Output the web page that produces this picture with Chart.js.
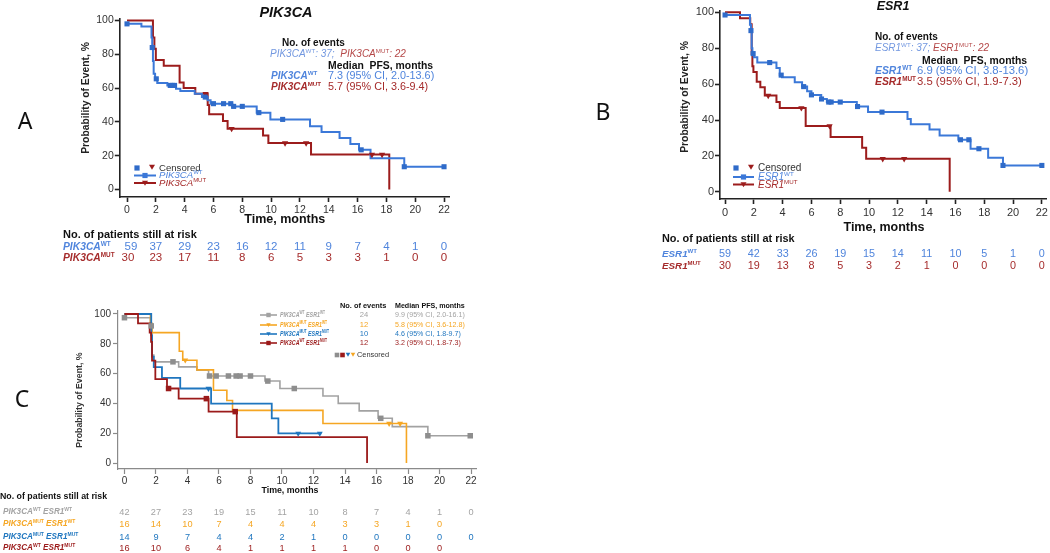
<!DOCTYPE html>
<html><head><meta charset="utf-8">
<script src="https://cdn.jsdelivr.net/npm/chart.js@4.4.1/dist/chart.umd.min.js"></script>
<style>
html,body{margin:0;padding:0;background:#fff;width:1050px;height:553px;overflow:hidden;position:relative}
canvas{position:absolute}
</style></head><body>
<canvas id="cA" width="560" height="285" style="left:0px;top:0px"></canvas>
<canvas id="cB" width="490" height="285" style="left:560px;top:0px"></canvas>
<canvas id="cC" width="500" height="263" style="left:0px;top:290px"></canvas>
<script>
// ---------- tick labels ----------
const xTicks = [0,2,4,6,8,10,12,14,16,18,20,22];
const yTicks = [0,20,40,60,80,100];

// ---------- Panel A: PIK3CA ----------
const aWtT = [0,1.0,1.7,1.75,1.8,1.85,1.95,2.1,2.8,3.4,3.7,4.7,5.2,5.6,5.8,7.3,9.0,9.95,12.7,13.5,14.75,15.5,16.1,16.9,19.24,22];
const aWtS = [98,96.5,90,84,76,68.5,65.5,63,61.6,59.6,58.3,56.7,54.7,52.8,50.8,49.2,45.5,41.5,37.5,34,30.5,27,23.5,18.5,13.5,13.5];
const aWtCens = [0,1.75,2.03,3.0,3.15,3.3,5.43,6.0,6.7,7.2,7.4,8.0,9.15,10.8,16.25,19.24,22];
const aMutT = [0,1.8,1.9,2.0,2.55,3.65,3.93,4.74,5.6,5.7,6.66,6.98,9.44,9.81,12.77,18.2];
const aMutS = [100,90,83.3,76.7,73.3,63.3,60,56.7,50,44.5,40.5,36,32,27.5,20.7,0];
const aMutCens = [5.45,7.26,10.97,12.43,17.0,17.7];
const aRiskWt  = [59,37,29,23,16,12,11,9,7,4,1,0];
const aRiskMut = [30,23,17,11,8,6,5,3,3,1,0,0];

// ---------- Panel B: ESR1 ----------
const bWtT = [0,1.73,1.8,1.85,1.9,2.0,2.24,3.57,3.8,3.95,4.84,5.35,5.7,6.0,6.68,7.07,9.15,9.93,12.67,12.9,14.2,14.9,16.2,17.05,18.27,19.3,22];
const bWtS = [98.5,93,89.8,80,77,75,72,69,65,63.8,61,58.6,56,54,51.7,50,47.5,44.4,40.6,37.7,34.7,31.4,29,24,19,14.7,14.7];
const bWtCens = [0,1.8,1.95,3.1,3.9,5.46,6.0,6.7,7.2,7.37,8.0,9.2,10.9,16.35,16.93,17.63,19.3,22];
const bMutT = [0,1.04,1.75,1.85,1.9,1.97,2.2,2.45,2.76,3.57,3.8,5.6,7.33,9.52,9.8,15.6];
const bMutS = [100,96.7,93.3,76.7,70,66.7,61.3,58.2,53.6,50,46.7,36.7,30.6,24.5,18.4,0];
const bMutCens = [3.0,5.3,7.26,10.95,12.44];
const bRiskWt  = [59,42,33,26,19,15,14,11,10,5,1,0];
const bRiskMut = [30,19,13,8,5,3,2,1,0,0,0,0];

// ---------- Panel C: combined ----------
const cGrayT = [0,1.65,1.75,1.86,3.44,4.6,5.34,8.92,9.87,12.6,13.57,14.9,16.1,17.0,19.26,22];
const cGrayS = [97.5,92,72.4,67.9,64.5,62.2,58.4,55,50,45,40,35,30,24.4,18.3,18.3];
const cGrayCens = [0,1.7,3.08,5.4,5.82,6.6,7.09,7.34,8.0,9.1,10.78,16.27,19.26,21.95];
const cYelT = [0,1.65,1.75,3.48,3.7,4.6,5.65,6.5,6.86,12.6,17.9];
const cYelS = [100,93.75,87.5,75,69,62.5,48.8,42,35.3,26.5,0];
const cYelCens = [3.86,16.8,17.5];
const cBluT = [0,1.7,1.75,1.86,2.38,3.54,5.5,9.35,9.77,12.5];
const cBluS = [100,85.7,71.4,64.3,57.1,50,39.8,30,19.9,19.9];
const cBluCens = [5.33,11.03,12.4];
const cRedT = [0,0.86,1.6,1.69,1.75,1.96,2.7,3.44,5.34,7.13,15.4];
const cRedS = [100,93.75,87.5,81.25,68.75,56.25,50,43.2,34.5,17.4,0];
const cRedCens = [2.8,5.2,7.03];
const cRiskGray = [42,27,23,19,15,11,10,8,7,4,1,0];
const cRiskYel  = [16,14,10,7,4,4,4,3,3,1,0];
const cRiskBlu  = [14,9,7,4,4,2,1,0,0,0,0,0];
const cRiskRed  = [16,10,6,4,1,1,1,1,0,0,0];
const cEvents = ['24','12','10','12'];
const cMedians = ['9.9 (95% CI, 2.0-16.1)','5.8 (95% CI, 3.6-12.8)','4.6 (95% CI, 1.8-9.7)','3.2 (95% CI, 1.8-7.3)'];

// ---------- styles ----------
const F  = '"Liberation Sans", Arial, sans-serif';
const BL = '#3b78d8', BLT = '#4f84dc', BLM = '#2f6bc9', BLL = '#7398e0';
const RD = '#9c1c1c', RDT = '#a52b2b', RDL = '#b54848';
const CG = '#a2a2a2', CGM = '#8e8e8e', CGT = '#a3a3a3';
const CY = '#f5a623', CB = '#1f76bf', CR = '#9b1a1a';

function survAt(T,S,t){ let v=S[0]; for(let i=0;i<T.length;i++){ if(T[i]<=t+1e-9) v=S[i]; } return v; }
function km(T,S,color,w){ return {data:T.map((t,i)=>({x:t,y:S[i]})), showLine:true, stepped:'before', borderColor:color, borderWidth:w, pointRadius:0, fill:false, clip:false, borderCapStyle:'butt', borderJoinStyle:'miter'}; }
function cens(C,T,S,style,r,color){ return {data:C.map(t=>({x:t,y:survAt(T,S,t)})), showLine:false, pointStyle:style, rotation: style==='triangle'?180:0, pointRadius:r, pointBackgroundColor:color, pointBorderColor:color, pointBorderWidth:0, clip:false}; }

function rich(ctx,segs,x,y,align,hs){
  hs = hs || 1;
  let w=0; segs.forEach(s=>{ctx.font=s[1]; w+=ctx.measureText(s[0]).width;});
  const x0 = align==='center'? x-w*hs/2 : (align==='right'? x-w*hs : x);
  ctx.save(); ctx.translate(x0,y); ctx.scale(hs,1);
  ctx.textAlign='left'; ctx.textBaseline='middle';
  let cx=0;
  segs.forEach(s=>{ctx.font=s[1]; ctx.fillStyle=s[2]; ctx.fillText(s[0],cx,(s[3]||0)); cx+=ctx.measureText(s[0]).width;});
  ctx.restore();
}
function txt(ctx,s,x,y,f,c,align,hs){ rich(ctx,[[s,f,c,0]],x,y,align||'left',hs); }
function gene(name,sup,size,color,bold){
  const b = bold?'bold ':'';
  return [[name, b+'italic '+size+'px '+F, color, 0],
          [sup, b+(size*0.62).toFixed(1)+'px '+F, color, -size*0.3]];
}
function marker(ctx,style,x,y,r,color){
  ctx.fillStyle=color; ctx.beginPath();
  if(style==='rect'){ ctx.rect(x-r,y-r,2*r,2*r); }
  else { ctx.moveTo(x-r,y-r*0.75); ctx.lineTo(x+r,y-r*0.75); ctx.lineTo(x,y+r*0.95); ctx.closePath(); }
  ctx.fill();
}
function legLine(ctx,x1,x2,y,color,w,style,r){
  ctx.strokeStyle=color; ctx.lineWidth=w; ctx.beginPath(); ctx.moveTo(x1,y); ctx.lineTo(x2,y); ctx.stroke();
  marker(ctx,style,(x1+x2)/2,y,r,color);
}

function makeChart(id, P){
  const padding = {
    left: P.area.left - P.ox - P.yW,
    top: P.area.top - P.oy,
    right: P.w - (P.area.right - P.ox),
    bottom: P.h - (P.area.bottom - P.oy) - P.xH
  };
  const axis = (min,max,ticks,fit,pad) => ({
    type:'linear', min:min, max:max,
    afterBuildTicks: s => { s.ticks = ticks.map(v=>({value:v})); },
    afterFit: fit,
    grid:{display:true, drawOnChartArea:false, drawTicks:true, tickLength:P.tickLen, tickColor:P.axisColor, tickWidth:P.axisW},
    border:{display:true, color:P.axisColor, width:P.axisW},
    ticks:{font:P.tickFont, color:P.tickColor, padding:pad, autoSkip:false, maxRotation:0}
  });
  return new Chart(document.getElementById(id), {
    type:'scatter',
    data:{datasets:P.datasets},
    options:{
      responsive:false, animation:false, devicePixelRatio:1,
      layout:{padding:padding, autoPadding:false},
      plugins:{legend:{display:false}, tooltip:{enabled:false}},
      events:[],
      scales:{
        x: axis(P.xr[0],P.xr[1],xTicks, s=>{s.height=P.xH;}, P.xPad),
        y: axis(P.yr[0],P.yr[1],yTicks, s=>{s.width=P.yW;}, P.yPad)
      }
    },
    plugins:[{id:'txt'+id, afterDraw(chart){
      const ctx=chart.ctx; ctx.save(); ctx.translate(-P.ox,-P.oy);
      const xs = v => chart.scales.x.getPixelForValue(v) + P.ox;
      P.draw(ctx, xs, chart); ctx.restore();
    }}]
  });
}

// ---------- Panel A ----------
makeChart('cA', {
  ox:0, oy:0, w:560, h:285, yW:40, xH:20,
  area:{left:119.8, right:449.8, top:18.8, bottom:197},
  xr:[-0.5,22.4], yr:[-4.4,101],
  axisColor:'#222', axisW:1.6, tickLen:5, tickColor:'#333', xPad:2, yPad:1,
  tickFont:{family:F, size:10.5},
  datasets:[
    cens(aWtCens,aWtT,aWtS,'rect',3.6,BLM),
    cens(aMutCens,aMutT,aMutS,'triangle',3.6,RD),
    km(aWtT,aWtS,BL,2),
    km(aMutT,aMutS,RD,2)
  ],
  draw(ctx,xs,chart){
    txt(ctx,'PIK3CA',286,13,'bold italic 14.5px '+F,'#111','center');
    txt(ctx,'A',25,122,'23px "Noto Sans", '+F,'#111','center');
    ctx.save(); ctx.translate(86,98); ctx.rotate(-Math.PI/2);
    txt(ctx,'Probability of Event, %',0,0,'bold 10.3px '+F,'#222','center'); ctx.restore();
    txt(ctx,'Time, months',(chart.chartArea.left+chart.chartArea.right)/2,220,'bold 12.5px '+F,'#111','center');
    // annotation
    txt(ctx,'No. of events',282,43,'bold 10px '+F,'#111');
    rich(ctx,[...gene('PIK3CA','WT',10,BLL,false),[': 37;  ','italic 10px '+F,BLL],...gene('PIK3CA','MUT',10,RDL,false),[': 22','italic 10px '+F,RDL]],270,54);
    txt(ctx,'Median  PFS, months',328,66,'bold 10.4px '+F,'#111');
    rich(ctx,gene('PIK3CA','WT',10,BLT,true),271,76);
    txt(ctx,'7.3 (95% CI, 2.0-13.6)',328,76,'10.8px '+F,BLT);
    rich(ctx,gene('PIK3CA','MUT',10,RDT,true),271,87);
    txt(ctx,'5.7 (95% CI, 3.6-9.4)',328,87,'10.8px '+F,RDT);
    // legend
    marker(ctx,'rect',137,168,2.6,BLM); marker(ctx,'tri',152,167,3,RD);
    txt(ctx,'Censored',159,168,'9.6px '+F,'#333');
    legLine(ctx,134,156,175.5,BL,2,'rect',2.6);
    rich(ctx,gene('PIK3CA','WT',9.6,BLT,false),159,175.5);
    legLine(ctx,134,156,183,RD,2,'tri',3);
    rich(ctx,gene('PIK3CA','MUT',9.6,RDT,false),159,183.5);
    // at risk
    txt(ctx,'No. of patients still at risk',63,235,'bold 11px '+F,'#111');
    rich(ctx,gene('PIK3CA','WT',10.3,BLT,true),63,247);
    rich(ctx,gene('PIK3CA','MUT',10.3,RDT,true),63,258);
    xTicks.forEach((t,i)=>{
      if(i<aRiskWt.length) txt(ctx,String(aRiskWt[i]),xs(t)+(i===0?4:0),247,'11.5px '+F,BLT,'center');
      if(i<aRiskMut.length) txt(ctx,String(aRiskMut[i]),xs(t)+(i===0?1:0),258,'11.5px '+F,RDT,'center');
    });
  }
});

// ---------- Panel B ----------
makeChart('cB', {
  ox:560, oy:0, w:490, h:285, yW:40, xH:20,
  area:{left:720, right:1047.7, top:10.5, bottom:199},
  xr:[-0.35,22.3], yr:[-4,101],
  axisColor:'#222', axisW:1.6, tickLen:5, tickColor:'#333', xPad:2, yPad:1,
  tickFont:{family:F, size:11},
  datasets:[
    cens(bWtCens,bWtT,bWtS,'rect',3.6,BLM),
    cens(bMutCens,bMutT,bMutS,'triangle',3.6,RD),
    km(bWtT,bWtS,BL,2),
    km(bMutT,bMutS,RD,2)
  ],
  draw(ctx,xs,chart){
    txt(ctx,'ESR1',893,7,'bold italic 12.5px '+F,'#111','center');
    txt(ctx,'B',603,113,'23px "Noto Sans", '+F,'#111','center');
    ctx.save(); ctx.translate(685,97); ctx.rotate(-Math.PI/2);
    txt(ctx,'Probability of Event, %',0,0,'bold 10.3px '+F,'#222','center'); ctx.restore();
    txt(ctx,'Time, months',884,228,'bold 12.5px '+F,'#111','center');
    txt(ctx,'No. of events',875,37,'bold 10px '+F,'#111');
    rich(ctx,[...gene('ESR1','WT',10,BLL,false),[': 37; ','italic 10px '+F,BLL],...gene('ESR1','MUT',10,RDL,false),[': 22','italic 10px '+F,RDL]],875,48);
    txt(ctx,'Median  PFS, months',922,61,'bold 10.4px '+F,'#111');
    rich(ctx,gene('ESR1','WT',10.4,BLT,true),875,71);
    txt(ctx,'6.9 (95% CI, 3.8-13.6)',917,71,'11.3px '+F,BLT);
    rich(ctx,gene('ESR1','MUT',10.4,RDT,true),875,82);
    txt(ctx,'3.5 (95% CI, 1.9-7.3)',917,82,'11.3px '+F,RDT);
    marker(ctx,'rect',736,168,2.6,BLM); marker(ctx,'tri',751,167,3,RD);
    txt(ctx,'Censored',758,168,'10px '+F,'#333');
    legLine(ctx,733,754,177,BL,2,'rect',2.6);
    rich(ctx,gene('ESR1','WT',10,BLT,false),758,177);
    legLine(ctx,733,754,184.5,RD,2,'tri',3);
    rich(ctx,gene('ESR1','MUT',10,RDT,false),758,185.5);
    txt(ctx,'No. of patients still at risk',662,239,'bold 10.9px '+F,'#111');
    rich(ctx,gene('ESR1','WT',9.8,BLT,true),662,254);
    rich(ctx,gene('ESR1','MUT',9.8,RDT,true),662,266);
    xTicks.forEach((t,i)=>{
      txt(ctx,String(bRiskWt[i]),xs(t),254,'10.8px '+F,BLT,'center');
      txt(ctx,String(bRiskMut[i]),xs(t),266,'10.8px '+F,RDT,'center');
    });
  }
});

// ---------- Panel C ----------
makeChart('cC', {
  ox:0, oy:290, w:500, h:263, yW:40, xH:20,
  area:{left:118, right:476.7, top:311, bottom:469},
  xr:[-0.41,22.36], yr:[-4,102],
  axisColor:'#8a8a8a', axisW:1.2, tickLen:5, tickColor:'#333', xPad:1, yPad:2,
  tickFont:{family:F, size:10},
  datasets:[
    cens(cGrayCens,cGrayT,cGrayS,'rect',3.9,CGM),
    cens(cRedCens,cRedT,cRedS,'rect',3.9,CR),
    cens(cBluCens,cBluT,cBluS,'triangle',3.4,CB),
    cens(cYelCens,cYelT,cYelS,'triangle',3.4,CY),
    km(cRedT,cRedS,CR,1.8),
    km(cBluT,cBluS,CB,1.8),
    km(cYelT,cYelS,CY,1.6),
    km(cGrayT,cGrayS,CG,1.6)
  ],
  draw(ctx,xs,chart){
    txt(ctx,'C',22,400,'23px "Noto Sans", '+F,'#111','center');
    ctx.save(); ctx.translate(80,400); ctx.rotate(-Math.PI/2);
    txt(ctx,'Probability of Event, %',0,0,'bold 8.8px '+F,'#333','center'); ctx.restore();
    txt(ctx,'Time, months',290,491,'bold 8.8px '+F,'#111','center');
    txt(ctx,'No. of events',340,306,'bold 7.4px '+F,'#111');
    txt(ctx,'Median PFS, months',395,306,'bold 7.1px '+F,'#111');
    const rows = [
      {y:315, c:CGT, lc:CG, m:'rect', s1:'WT', s2:'WT'},
      {y:325, c:CY, lc:CY, m:'tri', s1:'MUT', s2:'WT'},
      {y:334, c:CB, lc:CB, m:'tri', s1:'MUT', s2:'MUT'},
      {y:343, c:CR, lc:CR, m:'rect', s1:'WT', s2:'MUT'}
    ];
    rows.forEach((r,i)=>{
      legLine(ctx,260,277,r.y,r.lc,1.6,r.m,2.2);
      rich(ctx,[...gene('PIK3CA',r.s1,7.6,r.c,true),[' ','bold 7.6px '+F,r.c],...gene('ESR1',r.s2,7.6,r.c,true)],280,r.y,'left',0.7);
      txt(ctx,cEvents[i],364,r.y,'7.6px '+F,r.c,'center');
      txt(ctx,cMedians[i],395,r.y,'7.1px '+F,r.c);
    });
    marker(ctx,'rect',337,355,2.3,CGM); marker(ctx,'rect',342.5,355,2.3,CR);
    marker(ctx,'tri',348,354.5,2.3,CB); marker(ctx,'tri',353,354.5,2.3,CY);
    txt(ctx,'Censored',357,355,'7.4px '+F,'#333');
    txt(ctx,'No. of patients still at risk',0,497,'bold 8.8px '+F,'#111');
    const risk = [[cRiskGray,CGT,'WT','WT',512],[cRiskYel,CY,'MUT','WT',524],[cRiskBlu,CB,'MUT','MUT',537],[cRiskRed,CR,'WT','MUT',548]];
    risk.forEach(r=>{
      rich(ctx,[...gene('PIK3CA',r[2],8.6,r[1],true),[' ','bold 8.6px '+F,r[1]],...gene('ESR1',r[3],8.6,r[1],true)],3,r[4],'left',0.95);
      r[0].forEach((v,i)=>txt(ctx,String(v),xs(xTicks[i]),r[4],'9.2px '+F,r[1],'center'));
    });
  }
});
</script></body></html>
